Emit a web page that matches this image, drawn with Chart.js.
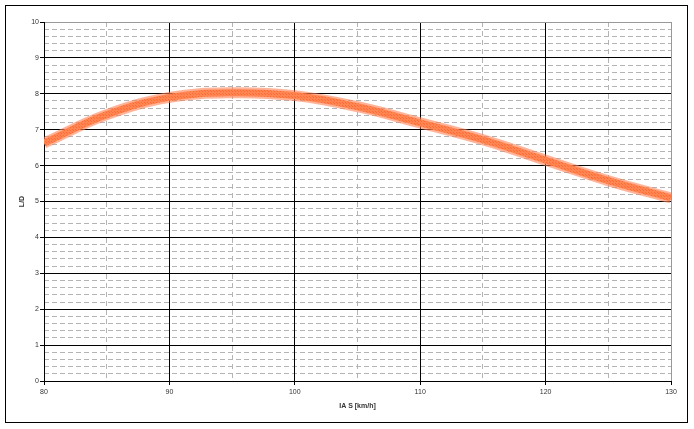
<!DOCTYPE html>
<html>
<head>
<meta charset="utf-8">
<script src="https://cdn.jsdelivr.net/npm/chart.js@4/dist/chart.umd.min.js"></script>
<style>
  html, body { margin: 0; padding: 0; background: #fff; }
  #wrap { position: relative; width: 694px; height: 429px; }
  #frame { position: absolute; left: 5px; top: 5px; width: 683px; height: 418px; border: 1px solid #000; box-sizing: border-box; }
  #chart { position: absolute; left: 0; top: 0; }
</style>
</head>
<body>
<div id="wrap">
  <div id="frame"></div>
  <canvas id="chart" width="694" height="429"></canvas>
</div>
<script>
// Datos
const iasKmh = [80, 85, 90, 95, 100, 105, 110, 115, 120, 125, 130];
const liftDrag = [6.63, 7.42, 7.9, 8.03, 7.95, 7.64, 7.19, 6.72, 6.15, 5.58, 5.1];

const xTitle = 'IA S [km/h]';
const yTitle = 'L/D';

const points = iasKmh.map((v, i) => ({ x: v, y: liftDrag[i] }));

// Patron punteado para la linea
function dotPattern() {
    const c = document.createElement('canvas');
    c.width = 3;
    c.height = 3;
    const g = c.getContext('2d');
    g.fillStyle = '#ff8a52';
    g.fillRect(0, 0, 3, 3);
    g.fillStyle = '#ff4a00';
    g.fillRect(1, 1, 1, 1);
    g.fillRect(0, 0, 1, 1);
    return g.createPattern(c, 'repeat');
}

const ctx = document.getElementById('chart').getContext('2d');
const font = { family: '"Liberation Sans", Arial, sans-serif', size: 7 };

new Chart(ctx, {
    type: 'line',
    data: {
        datasets: [
            {
                data: points,
                borderColor: 'rgba(255,130,85,0.6)',
                borderWidth: 11,
                pointRadius: 0,
                tension: 0.4,
                fill: false
            },
            {
                data: points,
                borderColor: dotPattern(),
                borderWidth: 7,
                pointRadius: 0,
                tension: 0.4,
                fill: false
            }
        ]
    },
    options: {
        responsive: false,
        animation: false,
        events: [],
        layout: { padding: { left: 0, top: 22, right: 23, bottom: 0 } },
        plugins: { legend: { display: false }, tooltip: { enabled: false } },
        scales: {
            x: {
                type: 'linear',
                min: 80,
                max: 130,
                ticks: { stepSize: 10, color: '#333', font: font, padding: 3, maxRotation: 0 },
                grid: {
                    color: c => c.tick && c.tick.value === 130 ? '#999' : '#000',
                    lineWidth: 1,
                    tickLength: 4,
                    tickColor: '#000',
                    z: -1
                },
                border: { color: '#000', width: 1 },
                title: { display: true, text: xTitle, color: '#333', font: { ...font, weight: 'bold' }, padding: { top: 0, bottom: 19 } },
                afterFit: s => { s.height = 48; }
            },
            x2: {
                type: 'linear',
                position: 'bottom',
                min: 80,
                max: 130,
                ticks: { display: false, stepSize: 5 },
                grid: { color: '#b4b4b4', drawTicks: false, lineWidth: 1, z: -2 },
                border: { display: false, dash: [5, 4] },
                afterFit: s => { s.height = 0; }
            },
            y: {
                type: 'linear',
                min: 0,
                max: 10,
                ticks: { stepSize: 1, color: '#333', font: font, padding: 1 },
                grid: {
                    color: c => c.tick && c.tick.value === 10 ? '#999' : '#000',
                    lineWidth: 1,
                    tickLength: 4,
                    tickColor: '#000',
                    z: -1
                },
                border: { color: '#000', width: 1 },
                title: { display: true, text: yTitle, color: '#333', font: { ...font, weight: 'bold' }, padding: { top: 18, bottom: 0 } },
                afterFit: s => { s.width = 44; }
            },
            y2: {
                type: 'linear',
                position: 'left',
                min: 0,
                max: 10,
                ticks: { display: false, stepSize: 0.2 },
                grid: { color: '#b4b4b4', drawTicks: false, lineWidth: 1, z: -2 },
                border: { display: false, dash: [5, 3] },
                afterFit: s => { s.width = 0; }
            }
        }
    }
});
</script>
</body>
</html>
